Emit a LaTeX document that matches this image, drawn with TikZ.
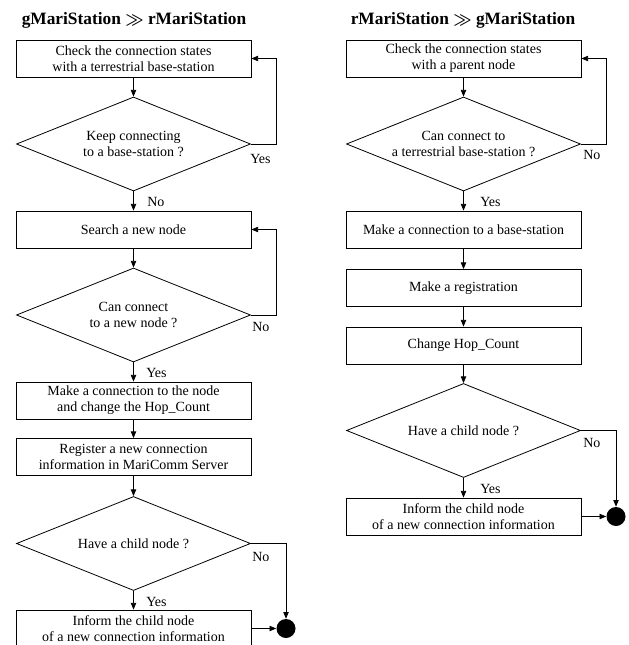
\documentclass[tikz,border=0pt]{standalone}
\usepackage{fontspec}
\setmainfont{Liberation Serif}
\usetikzlibrary{arrows.meta,shapes.geometric}
\begin{document}
\begin{tikzpicture}[x=0.75pt,y=-0.75pt,
 proc/.style={draw, line width=0.6pt, minimum width=176.25pt, minimum height=27.75pt, inner sep=0pt, align=center, font=\fontsize{10.5}{12}\selectfont},
 dec/.style={draw, diamond, line width=0.6pt, minimum width=175.5pt, minimum height=70.5pt, inner sep=0pt},
 txt/.style={align=center, font=\fontsize{10.5}{12}\selectfont, inner sep=0pt},
 lbl/.style={font=\fontsize{10.5}{12}\selectfont, inner sep=0pt, anchor=west},
 flow/.style={-{Triangle[length=5pt,width=4pt]}, line width=0.6pt},
 endpt/.style={circle, fill=black, minimum size=14.25pt, inner sep=0pt},
 ttl/.style={font=\fontsize{13}{15}\selectfont\bfseries\boldmath, inner sep=0pt}
]
\useasboundingbox (0,0) rectangle (628,645);
\clip (0,0) rectangle (628,645);

% ---------- left column ----------
\node[ttl] (TL) at (134,20) {gMariStation $\gg$ rMariStation};
\node[proc] (L1) at (133.5,58.5) {Check the connection states\\with a terrestrial base-station};
\node[dec] (LD1) at (133.5,144) {};
\node[txt] (LD1t) at (133.5,144) {Keep connecting\\to a base-station ?};
\node[proc] (L2) at (133.5,229.5) {Search a new node};
\node[dec] (LD2) at (133.5,315) {};
\node[txt] (LD2t) at (133.5,315) {Can connect\\to a new node ?};
\node[proc] (L3) at (133.5,400.5) {Make a connection to the node\\and change the Hop\_Count};
\node[proc] (L4) at (133.5,457) {Register a new connection\\information in MariComm Server};
\node[dec] (LD3) at (133.5,543.5) {};
\node[txt] (LD3t) at (133.5,543.5) {Have a child node ?};
\node[proc, minimum height=27.75pt] (L5) at (133.5,628.5) {Inform the child node\\of a new connection information};
\node[endpt] (E1) at (286,628.5) {};

\draw[flow] (L1) -- (LD1);
\draw[flow] (LD1.east) -- ++(25,0) |- (L1.east);
\draw[flow] (LD1) -- (L2);
\draw[flow] (L2) -- (LD2);
\draw[flow] (LD2.east) -- ++(25,0) |- (L2.east);
\draw[flow] (LD2) -- (L3);
\draw[flow] (L3) -- (L4);
\draw[flow] (L4) -- (LD3);
\draw[flow] (LD3) -- (L5);
\draw[flow] (LD3.east) -| (E1);
\draw[flow] (L5) -- (E1);

\node[lbl] (y1) at (250,159) {Yes};
\node[lbl] (n1) at (147,202) {No};
\node[lbl] (n2) at (252,327) {No};
\node[lbl] (y2) at (146,373) {Yes};
\node[lbl] (n3) at (252,557) {No};
\node[lbl] (y3) at (146,602) {Yes};

% ---------- right column ----------
\node[ttl] (TR) at (463,20) {rMariStation $\gg$ gMariStation};
\node[proc] (R1) at (463.5,58.5) {Check the connection states\\with a parent node};
\node[dec] (RD1) at (463.5,144) {};
\node[txt] (RD1t) at (463.5,144) {Can connect to\\a terrestrial base-station ?};
\node[proc] (R2) at (463.5,229.5) {Make a connection to a base-station};
\node[proc] (R3) at (463.5,288) {Make a registration};
\node[proc] (R4) at (463.5,345.5) {Change Hop\_Count};
\node[dec] (RD2) at (463.5,430.5) {};
\node[txt] (RD2t) at (463.5,430.5) {Have a child node ?};
\node[proc] (R5) at (463.5,516.5) {Inform the child node\\of a new connection information};
\node[endpt] (E2) at (616,516.5) {};

\draw[flow] (R1) -- (RD1);
\draw[flow] (RD1.east) -- ++(25,0) |- (R1.east);
\draw[flow] (RD1) -- (R2);
\draw[flow] (R2) -- (R3);
\draw[flow] (R3) -- (R4);
\draw[flow] (R4) -- (RD2);
\draw[flow] (RD2) -- (R5);
\draw[flow] (RD2.east) -| (E2);
\draw[flow] (R5) -- (E2);

\node[lbl] (n4) at (583,155) {No};
\node[lbl] (y4) at (480,202) {Yes};
\node[lbl] (n5) at (583,443) {No};
\node[lbl] (y5) at (480,489) {Yes};
\end{tikzpicture}
\end{document}
